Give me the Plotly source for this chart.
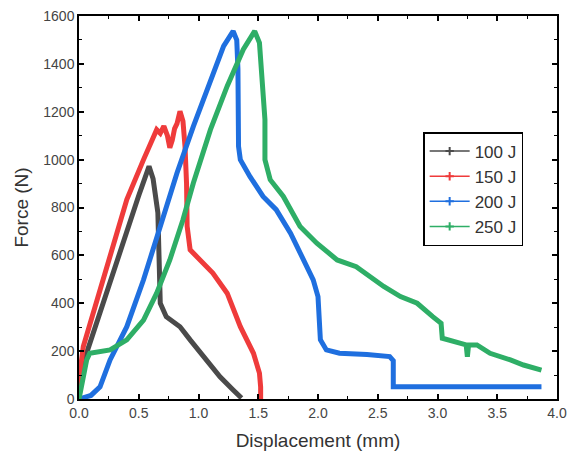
import plotly.graph_objects as go

# 100 J
x100 = [0.0, 0.02, 0.064, 0.2, 0.4, 0.5, 0.586, 0.62, 0.66, 0.675, 0.68, 0.73, 0.845, 0.93, 1.04, 1.18, 1.29, 1.36]
f100 = [0, 100, 192, 400, 700, 850, 972, 920, 778, 560, 400, 344, 302, 247, 177, 93, 38, 4]

# 150 J
x150 = [0.0, 0.01, 0.036, 0.12, 0.26, 0.40, 0.54, 0.65, 0.68, 0.71, 0.74, 0.76, 0.78, 0.80, 0.82, 0.845, 0.87, 0.887, 0.9, 0.905, 0.93, 1.01, 1.12, 1.24, 1.35, 1.46, 1.51, 1.52, 1.52]
f150 = [0, 120, 219, 359, 610, 833, 1000, 1125, 1110, 1140, 1100, 1050, 1080, 1130, 1150, 1202, 1160, 1056, 900, 721, 623, 581, 526, 442, 302, 191, 108, 50, 0]

# 200 J
x200 = [0.0, 0.05, 0.1, 0.176, 0.26, 0.40, 0.54, 0.68, 0.82, 0.957, 1.10, 1.21, 1.29, 1.32, 1.33, 1.335, 1.35, 1.43, 1.54, 1.65, 1.77, 1.88, 1.96, 2.0, 2.02, 2.07, 2.18, 2.41, 2.60, 2.63, 2.63, 3.0, 3.5, 3.87]
f200 = [0, 5, 15, 51, 163, 302, 498, 721, 944, 1139, 1321, 1474, 1537, 1500, 1377, 1056, 1000, 930, 846, 791, 693, 581, 498, 428, 247, 205, 191, 186, 177, 160, 51, 51, 51, 51]

# 250 J
x250 = [0.0, 0.03, 0.064, 0.09, 0.26, 0.40, 0.54, 0.65, 0.76, 0.87, 0.957, 1.10, 1.24, 1.375, 1.47, 1.51, 1.515, 1.54, 1.556, 1.556, 1.60, 1.71, 1.85, 1.99, 2.16, 2.32, 2.55, 2.69, 2.83, 2.96, 3.03, 3.04, 3.16, 3.24, 3.25, 3.26, 3.33, 3.44, 3.61, 3.72, 3.87]
f250 = [0, 90, 163, 191, 205, 247, 330, 442, 581, 749, 902, 1125, 1307, 1460, 1537, 1488, 1446, 1307, 1167, 1000, 916, 846, 721, 651, 581, 553, 470, 428, 400, 344, 316, 254, 240, 226, 177, 226, 226, 191, 163, 142, 121]

labels = ["100 J", "150 J", "200 J", "250 J"]
colors = ["#4a4a4a", "#ef3b3b", "#1f6fdf", "#2eae66"]
series = [(x100, f100), (x150, f150), (x200, f200), (x250, f250)]

fig = go.Figure()
for (xs, ys), c in zip(series, colors):
    fig.add_trace(go.Scatter(x=xs, y=ys, mode="lines", line=dict(color=c, width=5),
                             showlegend=False, hoverinfo="skip"))
for name, c in zip(labels, colors):
    fig.add_trace(go.Scatter(x=[None], y=[None], mode="lines+markers", name=name,
                             line=dict(color=c, width=1.5),
                             marker=dict(symbol="cross-thin", size=6, color=c,
                                         line=dict(color=c, width=2))))

FONT = "Liberation Sans, Arial"
axis_common = dict(
    showline=True, linecolor="black", linewidth=1.5, mirror="ticks",
    ticks="inside", ticklen=5, tickwidth=1.5, tickcolor="black",
    showgrid=False, zeroline=False, automargin=False,
    ticklabeloverflow="allow",
    tickfont=dict(family=FONT, size=14, color="#444"),
)

fig.update_xaxes(range=[0, 4], dtick=0.5, tickformat=".1f",
                 minor=dict(ticks="inside", ticklen=3, dtick=0.25, tickcolor="black", tickwidth=1.2),
                 title=dict(text="Displacement (mm)", font=dict(family=FONT, size=19, color="#333"), standoff=14),
                 **axis_common)
fig.update_yaxes(range=[0, 1600], dtick=200,
                 minor=dict(ticks="inside", ticklen=3, dtick=100, tickcolor="black", tickwidth=1.2),
                 title=dict(text="Force (N)", font=dict(family=FONT, size=19, color="#333"), standoff=10),
                 **axis_common)

fig.update_layout(
    width=568, height=453,
    margin=dict(l=79, r=11, t=16, b=54),
    plot_bgcolor="white", paper_bgcolor="white",
    legend=dict(x=0.72, y=0.697, xanchor="left", yanchor="top",
                bgcolor="white", bordercolor="black", borderwidth=1.5,
                font=dict(family=FONT, size=17, color="#333"),
                itemwidth=40, tracegroupgap=0),
)

# remove the browser's default 8px body margin so the figure fills the window exactly
fig.write_html("out.html", config={"displayModeBar": False},
               post_script="document.body.style.margin='0';document.body.style.overflow='hidden';")
